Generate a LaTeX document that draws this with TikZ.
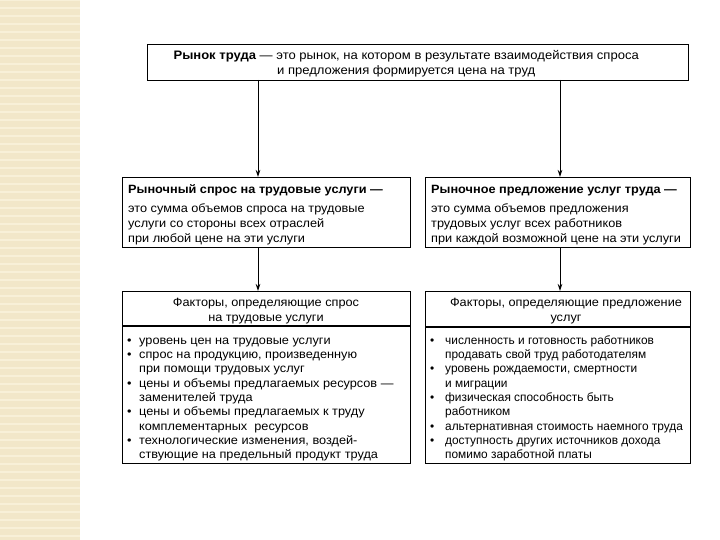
\documentclass[tikz,border=0pt]{standalone}
\usepackage{fontspec}
\setmainfont[FakeStretch=1.06]{Liberation Sans}
\newfontfamily\rfont[FakeStretch=0.99]{Liberation Sans}
\usetikzlibrary{arrows.meta}
\definecolor{strip}{HTML}{F2E7C9}
\definecolor{stripl}{HTML}{F8F0D8}
\newcommand\bul{\makebox[12pt][l]{\textbullet}}
\newcommand\ind{\hspace*{12pt}}
\newcommand\rbul{\makebox[15pt][l]{\textbullet}}
\newcommand\rind{\hspace*{15pt}}
\tikzset{
 box/.style={draw=black, line width=1.4pt, fill=white, inner sep=0pt, anchor=north west},
 txt/.style={inner sep=0pt, font=\fontsize{12}{14.25}\selectfont, align=left, anchor=north west},
 hdr/.style={inner sep=0pt, font=\fontsize{12}{15}\selectfont, align=center, anchor=north},
 arr/.style={draw, line width=0.9pt, -{Stealth[length=7pt,width=4.5pt]}},
 sep/.style={draw, line width=1.8pt},
}
\begin{document}
\begin{tikzpicture}[x=1pt,y=-1pt]
\useasboundingbox (0,0) rectangle (720,540);
\fill[strip] (0,0) rectangle (80,540);
\foreach \yy in {0,8,...,540} {\draw[stripl, line width=1.2pt] (0,\yy) -- (80,\yy);}
% boxes
\node[box, minimum width=541pt, minimum height=36pt] (top) at (147,44) {};
\node[box, minimum width=288pt, minimum height=70pt] (ml) at (122,177) {};
\node[box, minimum width=265pt, minimum height=70pt] (mr) at (425,177) {};
\node[box, minimum width=288pt, minimum height=172pt] (bl) at (122,291) {};
\node[box, minimum width=265pt, minimum height=172pt] (br) at (425,291) {};
% arrows
\coordinate (a1) at (258,80);
\coordinate (a2) at (560,80);
\coordinate (b1) at (258,247);
\coordinate (b2) at (560,247);
\draw[arr] (a1) -- (a1 |- ml.north);
\draw[arr] (a2) -- (a2 |- mr.north);
\draw[arr] (b1) -- (b1 |- bl.north);
\draw[arr] (b2) -- (b2 |- br.north);
% top text
\node[hdr, anchor=center, font=\fontsize{12.3}{15}\selectfont] (toptext) at ([xshift=-12pt,yshift=-1pt]top.center)
 {\textbf{Рынок труда} — это рынок, на котором в результате взаимодействия спроса\\и предложения формируется цена на труд};
% middle texts
\node[txt, font=\fontsize{12}{15}\selectfont] (mltext) at (128,182.5)
 {\strut\textbf{Рыночный спрос на трудовые услуги —}\\[4pt]
  это сумма объемов спроса на трудовые\\
  услуги со стороны всех отраслей\\
  при любой цене на эти услуги};
\node[txt, font=\fontsize{12}{15}\selectfont] (mrtext) at (431,182.5)
 {\strut\textbf{Рыночное предложение услуг труда —}\\[4pt]
  это сумма объемов предложения\\
  трудовых услуг всех работников\\
  при каждой возможной цене на эти услуги};
% bottom headers
\node[hdr] (blh) at (266,295.5) {\strut Факторы, определяющие спрос\\на трудовые услуги};
\node[hdr] (brh) at (566,295.5) {\strut Факторы, определяющие предложение\\услуг};
\coordinate (s1) at (0,326);
\coordinate (s2) at (0,327);
\draw[sep] (bl.west |- s1) -- (bl.east |- s1);
\draw[sep] (br.west |- s2) -- (br.east |- s2);
% bottom lists
\node[txt, font=\fontsize{12}{14.3}\selectfont] (bltext) at (127,334)
 {\strut\bul уровень цен на трудовые услуги\\
  \bul спрос на продукцию, произведенную\\
  \ind при помощи трудовых услуг\\
  \bul цены и объемы предлагаемых ресурсов —\\
  \ind заменителей труда\\
  \bul цены и объемы предлагаемых к труду\\
  \ind комплементарных\ \ ресурсов\\
  \bul технологические изменения, воздей-\\
  \ind ствующие на предельный продукт труда};
\node[txt, font=\rfont\fontsize{12}{14.3}\selectfont] (brtext) at (430,334)
 {\strut\rbul численность и готовность работников\\
  \rind продавать свой труд работодателям\\
  \rbul уровень рождаемости, смертности\\
  \rind и миграции\\
  \rbul физическая способность быть\\
  \rind работником\\
  \rbul альтернативная стоимость наемного труда\\
  \rbul доступность других источников дохода\\
  \rind помимо заработной платы};
\end{tikzpicture}
\end{document}
